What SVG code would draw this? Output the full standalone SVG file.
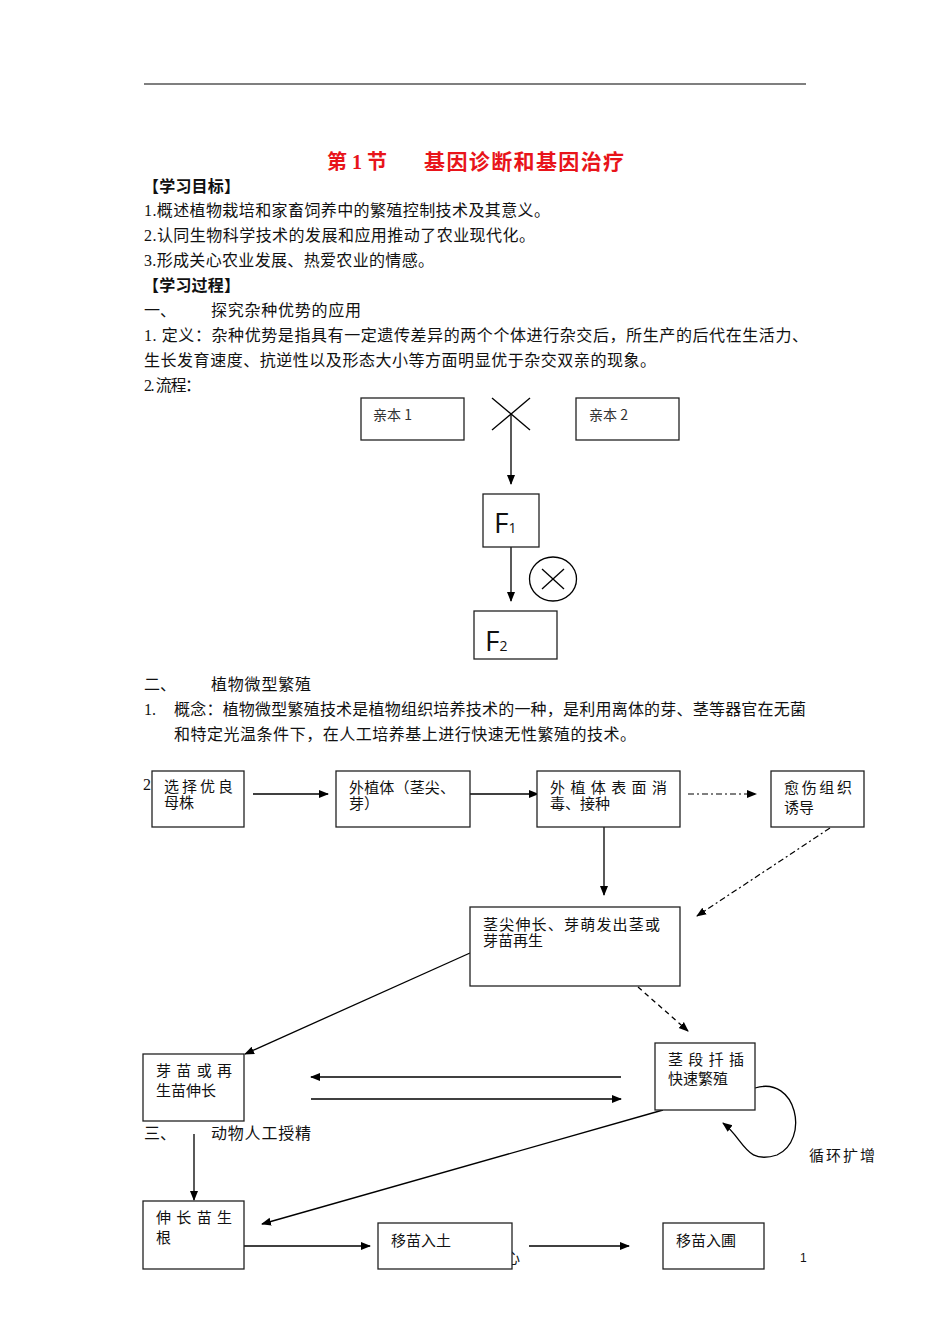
<svg xmlns="http://www.w3.org/2000/svg" width="950" height="1344" viewBox="0 0 950 1344">
<defs>
<style>
.t{font-family:"Liberation Serif","Noto Sans CJK SC",serif;font-size:16px;fill:#111}
.h{font-family:"Noto Sans CJK SC",sans-serif;font-size:16px;font-weight:bold;fill:#111}
.n{font-family:"Liberation Serif","Noto Sans CJK SC",serif;font-size:15px;fill:#111}
.s{font-family:"Noto Sans CJK SC",sans-serif;font-size:14px;fill:#333}
.box{fill:#fff;stroke:#222;stroke-width:1.3}
.ln{stroke:#000;stroke-width:1.3;fill:none}
.dd{stroke:#000;stroke-width:1.2;fill:none;stroke-dasharray:6,3,2,3}
.ds{stroke:#000;stroke-width:1.3;fill:none;stroke-dasharray:5,4}
</style>
<marker id="ah" viewBox="0 0 10 10" refX="9" refY="5" markerWidth="10" markerHeight="10" markerUnits="userSpaceOnUse" orient="auto"><path d="M0,1 L10,5 L0,9 z" fill="#000"/></marker>
</defs>
<rect width="950" height="1344" fill="#fff"/>
<line x1="144" y1="84" x2="806" y2="84" stroke="#000" stroke-width="1.2"/>
<text x="327" y="169" font-family="Liberation Serif,'Noto Sans CJK SC',serif" font-size="20" font-weight="bold" fill="#e8141a">第 1 节</text>
<text x="424" y="169" font-family="'Noto Sans CJK SC',sans-serif" font-size="21" font-weight="bold" fill="#e8141a" textLength="200">基因诊断和基因治疗</text>
<text x="143" y="192" class="h" textLength="97">【学习目标】</text>
<text x="144" y="216" class="t" textLength="406">1.概述植物栽培和家畜饲养中的繁殖控制技术及其意义。</text>
<text x="144" y="241" class="t" textLength="391">2.认同生物科学技术的发展和应用推动了农业现代化。</text>
<text x="144" y="266" class="t" textLength="290">3.形成关心农业发展、热爱农业的情感。</text>
<text x="143" y="291" class="h" textLength="97">【学习过程】</text>
<text x="144" y="316" class="t">一、</text>
<text x="211" y="316" class="t" textLength="150">探究杂种优势的应用</text>
<text x="144" y="341" class="t" textLength="664">1. 定义：杂种优势是指具有一定遗传差异的两个个体进行杂交后，所生产的后代在生活力、</text>
<text x="144" y="366" class="t" textLength="512">生长发育速度、抗逆性以及形态大小等方面明显优于杂交双亲的现象。</text>
<text x="144" y="391" class="t" textLength="57">2. 流程：</text>

<g id="connectors1">
<line class="ln" x1="492" y1="398" x2="530" y2="430"/>
<line class="ln" x1="530" y1="398" x2="492" y2="430"/>
<line class="ln" x1="511" y1="415" x2="511" y2="484" marker-end="url(#ah)"/>
<line class="ln" x1="511" y1="547" x2="511" y2="601" marker-end="url(#ah)"/>
<ellipse cx="553" cy="579" rx="23.5" ry="22" class="ln"/>
<line class="ln" x1="542" y1="569" x2="564" y2="589"/>
<line class="ln" x1="564" y1="569" x2="542" y2="589"/>
</g>
<g id="p1"><rect class="box" x="361" y="398" width="103" height="42"/><text x="373" y="420" class="s">亲本 1</text></g>
<g id="p2"><rect class="box" x="576" y="398" width="103" height="42"/><text x="589" y="420" class="s">亲本 2</text></g>
<g id="f1"><rect class="box" x="483" y="494" width="56" height="53"/><text x="494" y="533" font-family="'Open Sans','Noto Sans',sans-serif" font-size="28" fill="#111">F<tspan font-size="14">1</tspan></text></g>
<g id="f2"><rect class="box" x="474" y="611" width="83" height="48"/><text x="485" y="651" font-family="'Open Sans','Noto Sans',sans-serif" font-size="28" fill="#111">F<tspan font-size="14">2</tspan></text></g>

<text x="144" y="690" class="t">二、</text>
<text x="211" y="690" class="t" textLength="100">植物微型繁殖</text>
<text x="144" y="715" class="t">1.</text>
<text x="174" y="715" class="t" textLength="632">概念：植物微型繁殖技术是植物组织培养技术的一种，是利用离体的芽、茎等器官在无菌</text>
<text x="174" y="740" class="t" textLength="462">和特定光温条件下，在人工培养基上进行快速无性繁殖的技术。</text>
<text x="143" y="790" class="t">2</text>
<text x="144" y="1139" class="t">三、</text>
<text x="211" y="1139" class="t" textLength="100">动物人工授精</text>
<text x="505" y="1263" class="n" font-size="13">心</text>

<g id="connectors2">
<line class="ln" x1="253" y1="794" x2="328" y2="794" marker-end="url(#ah)"/>
<line class="ln" x1="470" y1="794" x2="538" y2="794" marker-end="url(#ah)"/>
<line class="dd" x1="688" y1="794" x2="756" y2="794" marker-end="url(#ah)"/>
<line class="ln" x1="604" y1="827" x2="604" y2="895" marker-end="url(#ah)"/>
<line class="dd" x1="830" y1="828" x2="697" y2="916" marker-end="url(#ah)"/>
<line class="ln" x1="470" y1="953" x2="245" y2="1054" marker-end="url(#ah)"/>
<line class="ds" x1="638" y1="987" x2="688" y2="1031" marker-end="url(#ah)"/>
<line class="ln" x1="621" y1="1077" x2="311" y2="1077" marker-end="url(#ah)"/>
<line class="ln" x1="311" y1="1099" x2="621" y2="1099" marker-end="url(#ah)"/>
<path class="ln" d="M755,1088 C797,1075 810,1140 777,1155 C745,1165 745,1140 723,1123" marker-end="url(#ah)"/>
<line class="ln" x1="194" y1="1134" x2="194" y2="1200" marker-end="url(#ah)"/>
<line class="ln" x1="663" y1="1110" x2="262" y2="1224" marker-end="url(#ah)"/>
<line class="ln" x1="244" y1="1246" x2="370" y2="1246" marker-end="url(#ah)"/>
<line class="ln" x1="529" y1="1246" x2="629" y2="1246" marker-end="url(#ah)"/>
</g>

<g id="a"><rect class="box" x="152" y="771" width="92" height="56"/><text x="164" y="792" class="n" font-size="13" letter-spacing="3">选择优良</text><text x="164" y="808" class="n" font-size="13">母株</text></g>
<g id="b"><rect class="box" x="336" y="771" width="134" height="56"/><text x="349" y="793" class="n" textLength="106">外植体（茎尖、</text><text x="349" y="809" class="n">芽）</text></g>
<g id="c"><rect class="box" x="537" y="771" width="143" height="56"/><text x="550" y="793" class="n" textLength="117">外植体表面消</text><text x="550" y="809" class="n">毒、接种</text></g>
<g id="d"><rect class="box" x="771" y="771" width="93" height="56"/><text x="784" y="793" class="n" font-size="16" textLength="68">愈伤组织</text><text x="784" y="813" class="n" font-size="16">诱导</text></g>
<g id="e"><rect class="box" x="470" y="907" width="210" height="79"/><text x="483" y="930" class="n" textLength="177">茎尖伸长、芽萌发出茎或</text><text x="483" y="946" class="n">芽苗再生</text></g>
<g id="f"><rect class="box" x="655" y="1043" width="100" height="67"/><text x="668" y="1065" class="n" textLength="76">茎段扦插</text><text x="668" y="1084" class="n">快速繁殖</text></g>
<g id="g"><rect class="box" x="143" y="1054" width="101" height="67"/><text x="156" y="1076" class="n" textLength="76">芽苗或再</text><text x="156" y="1096" class="n">生苗伸长</text></g>
<g id="h"><rect class="box" x="143" y="1201" width="101" height="68"/><text x="156" y="1223" class="n" textLength="76">伸长苗生</text><text x="156" y="1243" class="n">根</text></g>
<g id="i"><rect class="box" x="378" y="1223" width="134" height="46"/><text x="391" y="1246" class="n">移苗入土</text></g>
<g id="j"><rect class="box" x="663" y="1223" width="101" height="46"/><text x="676" y="1246" class="n">移苗入圃</text></g>
<text x="809" y="1161" class="n" font-size="16" textLength="66">循环扩增</text>
<text x="800" y="1262" font-family="'Liberation Sans',sans-serif" font-size="12" fill="#111">1</text>
</svg>
